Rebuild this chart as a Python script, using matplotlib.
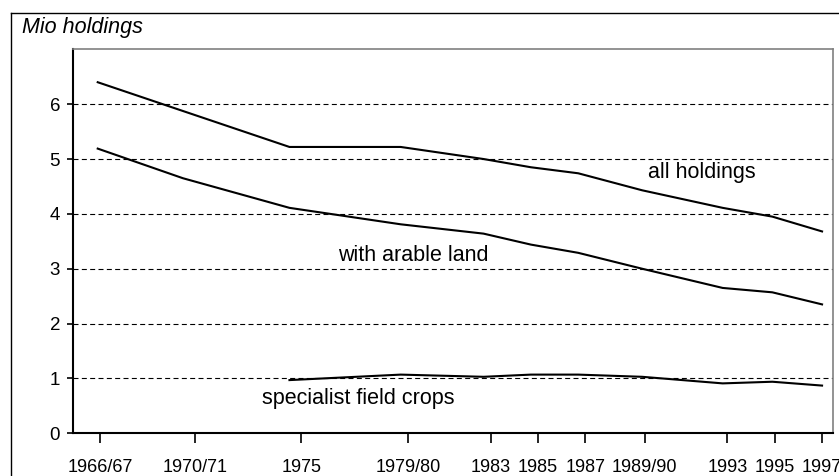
import matplotlib.pyplot as plt
from matplotlib.lines import Line2D

plt.rcParams['font.family'] = ['Liberation Sans', 'DejaVu Sans']

# Tick labels and where they sit on the year axis
tick_years = [1966.5, 1970.5, 1975, 1979.5, 1983, 1985, 1987, 1989.5, 1993, 1995, 1997]
tick_labels = ['1966/67', '1970/71', '1975', '1979/80', '1983', '1985', '1987',
               '1989/90', '1993', '1995', '1997']

# Survey dates of the data points
all_years = [1966.4, 1974.5, 1979.2, 1982.7, 1984.7, 1986.7, 1989.4, 1992.8, 1994.9, 1997.0]
all_holdings = [6.40, 5.22, 5.22, 5.00, 4.85, 4.74, 4.43, 4.11, 3.95, 3.68]

arable_years = [1966.4, 1970.0, 1974.5, 1979.2, 1982.7, 1984.7, 1986.7, 1989.4, 1992.8, 1994.9, 1997.0]
arable = [5.19, 4.65, 4.11, 3.81, 3.64, 3.44, 3.29, 3.00, 2.65, 2.57, 2.35]

crops_years = [1974.5, 1979.2, 1982.7, 1984.7, 1986.7, 1989.4, 1992.8, 1994.9, 1997.0]
crops = [0.97, 1.07, 1.03, 1.07, 1.07, 1.03, 0.91, 0.94, 0.87]

fig = plt.figure(figsize=(8.39, 4.76), dpi=100)
ax = fig.add_axes([0.0874, 0.0897, 0.9051, 0.8067])

# outer chart frame (top and left visible)
fig.add_artist(Line2D([11 / 839, 1.0], [1 - 13 / 476, 1 - 13 / 476], color='black', lw=1.0))
fig.add_artist(Line2D([11 / 839, 11 / 839], [0, 1 - 13 / 476], color='black', lw=1.0))

for yv in range(1, 7):
    ax.axhline(yv, color='black', lw=0.8, linestyle=(0, (4.5, 3)), zorder=1)

ax.plot(all_years, all_holdings, color='black', lw=1.5, zorder=3)
ax.plot(arable_years, arable, color='black', lw=1.5, zorder=3)
ax.plot(crops_years, crops, color='black', lw=1.5, zorder=3)

ax.text(1989.66, 4.65, 'all holdings', fontsize=15.5, va='baseline', ha='left')
ax.text(1976.57, 3.15, 'with arable land', fontsize=15.5, va='baseline', ha='left')
ax.text(1973.33, 0.53, 'specialist field crops', fontsize=15.5, va='baseline', ha='left')

fig.text(21.7 / 839, 1 - 32.7 / 476, 'Mio holdings', fontsize=15.5, style='italic',
         va='baseline', ha='left')

ax.set_xlim(1965.37, 1997.45)
ax.set_ylim(0, 7)
ax.set_yticks(range(0, 7))
ax.set_xticks(tick_years)
ax.set_xticklabels(tick_labels)
ax.tick_params(axis='y', length=4.5, width=1.2, pad=5, labelsize=13.5)
ax.tick_params(axis='x', length=7.2, width=1.2, pad=11, labelsize=13)

for side in ['left', 'bottom']:
    ax.spines[side].set_color('black')
    ax.spines[side].set_linewidth(1.5)
for side in ['top', 'right']:
    ax.spines[side].set_color('#808080')
    ax.spines[side].set_linewidth(1.2)

fig.savefig('out.png', dpi=100)
